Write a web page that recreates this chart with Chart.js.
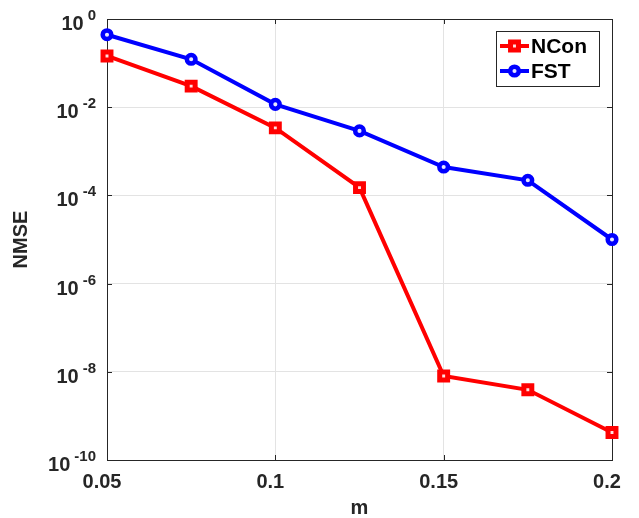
<!DOCTYPE html>
<html>
<head>
<meta charset="utf-8">
<script src="https://cdn.jsdelivr.net/npm/chart.js@4/dist/chart.umd.min.js"></script>
<style>
  html, body { margin: 0; padding: 0; background: #fff; }
  canvas { display: block; }
</style>
</head>
<body>
<canvas id="nmse" width="639" height="518"></canvas>
<script>
// values
const mValues = [0.05, 0.075, 0.1, 0.125, 0.15, 0.175, 0.2]
const nconNmse = [0.145, 0.030, 3.4e-3, 1.5e-4, 8.0e-9, 3.9e-9, 4.2e-10]
const fstNmse = [0.44, 0.122, 0.0116, 2.9e-3, 4.4e-4, 2.2e-4, 1.0e-5]
const xTicks = [0.05, 0.1, 0.15, 0.2]
const yTicks = [1e-10, 1e-8, 1e-6, 1e-4, 1e-2, 1]

const FONT = '"Liberation Sans", Arial, Helvetica, sans-serif'
const AXIS_COLOR = '#262626'

const toPoints = (ys) => ys.map((y, i) => ({ x: mValues[i], y: y }))

// box, inner ticks, 10^n labels and legend, matlab style
const matlabAxes = {
    id: 'matlabAxes',
    beforeDatasetsDraw(chart) {
        const { ctx, chartArea: a } = chart
        const xs = chart.scales.x, ys = chart.scales.y
        ctx.save()
        ctx.strokeStyle = AXIS_COLOR
        ctx.lineWidth = 1
        ctx.strokeRect(a.left + 0.5, a.top + 0.5, a.right - a.left, a.bottom - a.top)
        ctx.beginPath()
        xTicks.forEach(v => {
            const px = Math.round(xs.getPixelForValue(v)) + 0.5
            ctx.moveTo(px, a.bottom); ctx.lineTo(px, a.bottom - 5)
            ctx.moveTo(px, a.top); ctx.lineTo(px, a.top + 5)
        })
        yTicks.forEach(v => {
            const py = Math.round(ys.getPixelForValue(v)) + 0.5
            ctx.moveTo(a.left, py); ctx.lineTo(a.left + 5, py)
            ctx.moveTo(a.right, py); ctx.lineTo(a.right - 5, py)
        })
        ctx.stroke()
        ctx.restore()
    },
    afterDraw(chart) {
        const { ctx, chartArea: a } = chart
        const ys = chart.scales.y
        ctx.save()
        ctx.fillStyle = AXIS_COLOR
        ctx.textAlign = 'right'
        ctx.textBaseline = 'alphabetic'
        yTicks.forEach(v => {
            const py = ys.getPixelForValue(v)
            const exp = String(Math.round(Math.log10(v)))
            ctx.font = 'bold 15px ' + FONT
            const right = a.left - 11
            ctx.fillText(exp, right, py + 1)
            const w = ctx.measureText(exp).width
            ctx.font = 'bold 20px ' + FONT
            ctx.fillText('10', right - w - 4, py + 11)
        })

        // legend
        const lx = 496, ly = 31, lw = 103, lh = 55
        ctx.fillStyle = '#fff'
        ctx.fillRect(lx, ly, lw, lh)
        ctx.strokeStyle = AXIS_COLOR
        ctx.lineWidth = 1
        ctx.strokeRect(lx + 0.5, ly + 0.5, lw, lh)
        chart.data.datasets.forEach((ds, i) => {
            const cy = ly + 15 + i * 25
            ctx.strokeStyle = ds.borderColor
            ctx.lineWidth = ds.borderWidth
            ctx.beginPath()
            ctx.moveTo(lx + 4, cy); ctx.lineTo(lx + 33, cy)
            ctx.stroke()
            ctx.fillStyle = ds.pointBackgroundColor
            ctx.lineWidth = ds.pointBorderWidth
            Chart.helpers.drawPoint(ctx, {
                pointStyle: ds.pointStyle,
                radius: ds.pointRadius,
                borderWidth: ds.pointBorderWidth
            }, lx + 18.5, cy)
            ctx.fillStyle = '#000'
            ctx.textAlign = 'left'
            ctx.textBaseline = 'middle'
            ctx.font = 'bold 21px ' + FONT
            ctx.fillText(ds.label, lx + 35, cy + 1)
        })
        ctx.restore()
    }
}

new Chart(document.getElementById('nmse'), {
    type: 'line',
    data: {
        datasets: [{
            label: 'NCon',
            data: toPoints(nconNmse),
            borderColor: '#ff0000',
            backgroundColor: '#ffe0e0',
            borderWidth: 4,
            pointStyle: 'rect',
            pointRadius: 5.6,
            pointBorderWidth: 5,
            pointBackgroundColor: '#ffe0e0',
            clip: false
        }, {
            label: 'FST',
            data: toPoints(fstNmse),
            borderColor: '#0000ff',
            backgroundColor: '#ffffff',
            borderWidth: 4,
            pointStyle: 'circle',
            pointRadius: 4.3,
            pointBorderWidth: 4.5,
            pointBackgroundColor: '#e8e8ff',
            clip: false
        }]
    },
    options: {
        responsive: false,
        animation: false,
        layout: { padding: { left: 0, top: 19, right: 27, bottom: 0 } },
        plugins: {
            legend: { display: false },
            tooltip: { enabled: false }
        },
        scales: {
            x: {
                type: 'linear',
                min: 0.05,
                max: 0.2,
                afterBuildTicks: (s) => { s.ticks = xTicks.map(v => ({ value: v })) },
                afterFit: (s) => { s.height = 58 },
                border: { display: false },
                grid: { color: '#e3e3e3', lineWidth: 1, drawTicks: false },
                ticks: {
                    color: AXIS_COLOR,
                    font: { family: FONT, size: 20, weight: 'bold' },
                    padding: 10,
                    labelOffset: -5,
                    maxRotation: 0,
                    callback: (v) => String(v)
                },
                title: {
                    display: true,
                    text: 'm',
                    color: AXIS_COLOR,
                    font: { family: FONT, size: 20, weight: 'bold', lineHeight: 1 },
                    padding: { top: 0, bottom: 0 }
                }
            },
            y: {
                type: 'logarithmic',
                min: 1e-10,
                max: 1,
                afterBuildTicks: (s) => { s.ticks = yTicks.map(v => ({ value: v })) },
                afterFit: (s) => { s.width = 107 },
                border: { display: false },
                grid: { color: '#e3e3e3', lineWidth: 1, drawTicks: false },
                ticks: { display: false },
                title: {
                    display: true,
                    text: 'NMSE',
                    color: AXIS_COLOR,
                    font: { family: FONT, size: 20, weight: 'bold', lineHeight: 1 },
                    padding: { top: 11, bottom: 0 }
                }
            }
        }
    },
    plugins: [matlabAxes]
})
</script>
</body>
</html>
